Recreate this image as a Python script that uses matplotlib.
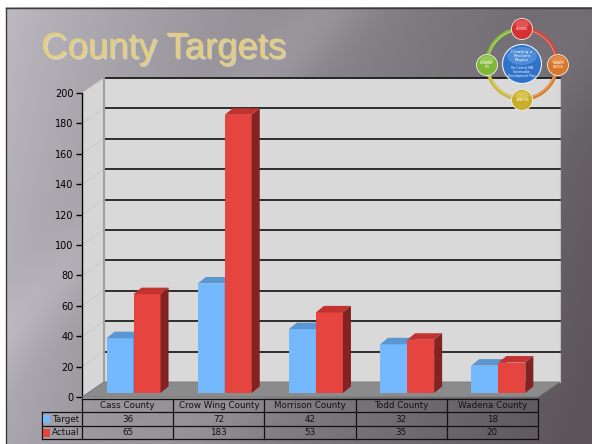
import numpy as np
import matplotlib
matplotlib.use("Agg")
import matplotlib.pyplot as plt
from matplotlib.patches import Polygon, Rectangle, Circle, Ellipse
from matplotlib import transforms
import matplotlib.patheffects as pe

# ---------------- data ----------------
categories = ["Cass County", "Crow Wing County", "Morrison County", "Todd County", "Wadena County"]
series_names = ["Target", "Actual"]
target = [36, 72, 42, 32, 18]
actual = [65, 183, 53, 35, 20]
yticks = [0, 20, 40, 60, 80, 100, 120, 140, 160, 180, 200]

front_colors = ["#74B8FE", "#E6443F"]
top_colors = ["#5A96D2", "#C2322E"]
side_colors = ["#4A78A8", "#822222"]

W, H = 592, 444
fig = plt.figure(figsize=(W / 100, H / 100), dpi=100)
fig.patch.set_facecolor("white")

# ---------------- background ----------------
bg = fig.add_axes([0, 0, 1, 1])
bg.set_xlim(0, W)
bg.set_ylim(H, 0)
bg.axis("off")
xx, yy = np.meshgrid(np.linspace(0, 1, 300), np.linspace(0, 1, 225))
left_c = np.array([188, 185, 192]) / 255
right_c = np.array([92, 86, 92]) / 255
t = np.clip(xx ** 0.85 * 0.85 + yy * 0.18, 0, 1)
img = left_c[None, None, :] * (1 - t[..., None]) + right_c[None, None, :] * t[..., None]
streak = 0.05 * np.exp(-(((xx * W + yy * H) - 330) / 45) ** 2)
streak2 = 0.035 * np.exp(-(((xx * W + yy * H) - 620) / 70) ** 2)
img = np.clip(img + streak[..., None] + streak2[..., None], 0, 1)
bg.imshow(img, extent=[6, W, H, 8], aspect="auto", zorder=0)
bg.plot([6, W], [8, 8], color="#3c3a3e", lw=1.0, zorder=1)
bg.plot([6, 6], [8, H], color="#3c3a3e", lw=1.0, zorder=1)

# ---------------- chart axes ----------------
ax_left, ax_right, ax_top, ax_bot = 82, 538, 93, 397
ax = fig.add_axes([ax_left / W, (H - ax_bot) / H, (ax_right - ax_left) / W, (ax_bot - ax_top) / H])
ax.patch.set_visible(False)
n = len(categories)
ax.set_xlim(-0.5, n - 0.5)
ax.set_ylim(0, 200)
for s in ["top", "right", "bottom"]:
    ax.spines[s].set_visible(False)
ax.spines["left"].set_color("black")
ax.spines["left"].set_linewidth(1.0)
ax.set_xticks([])
ax.set_yticks(yticks)
ax.tick_params(axis="y", labelsize=7, length=4, width=1, color="black", labelcolor="black", pad=2)

px_cat = (ax_right - ax_left) / n
px_unit = (ax_bot - ax_top) / 200.0
DX = 22 / px_cat
DY = 15 / px_unit
x0, x1 = -0.5, n - 0.5

# back wall
ax.add_patch(Polygon([(x0 + DX, DY), (x1 + DX, DY), (x1 + DX, 200 + DY), (x0 + DX, 200 + DY)],
                     closed=True, facecolor="#D9D9D9", edgecolor="#BDBDBD", lw=0.8, clip_on=False, zorder=1))
# side wall
ax.add_patch(Polygon([(x0, 0), (x0 + DX, DY), (x0 + DX, 200 + DY), (x0, 200)],
                     closed=True, facecolor="#D6D6D6", edgecolor="#C4C4C4", lw=0.6, clip_on=False, zorder=1))
for v in yticks[1:]:
    ax.plot([x0, x0 + DX], [v, v + DY], color="#C8C8C8", lw=0.6, clip_on=False, zorder=2)
    ax.plot([x0 + DX, x1 + DX], [v + DY, v + DY], color="#111111", lw=1.2, clip_on=False, zorder=2)
ax.plot([x0 + DX, x0 + DX], [DY, 200 + DY], color="#A0A0A0", lw=1.5, clip_on=False, zorder=2)
# floor
ax.add_patch(Polygon([(x0, 0), (x1, 0), (x1 + DX, DY), (x0 + DX, DY)],
                     closed=True, facecolor="#8B8B8B", edgecolor="#7A7A7A", lw=0.6, clip_on=False, zorder=3))

# bars
f = 0.27
bx_off = f * DX
by_off = f * DY
BW = 27 / px_cat
bdx = 8 / px_cat
bdy = 6.5 / px_unit
series = [target, actual]
z = 4
for i in range(n):
    for k, vals in enumerate(series):
        xl = i + bx_off + (k - 1) * BW
        xr = xl + BW
        yb = by_off
        yt = by_off + vals[i]
        ax.add_patch(Polygon([(xl, yb), (xr, yb), (xr, yt), (xl, yt)], closed=True,
                             facecolor=front_colors[k], edgecolor="none", clip_on=False, zorder=z))
        ax.add_patch(Polygon([(xl, yt), (xr, yt), (xr + bdx, yt + bdy), (xl + bdx, yt + bdy)], closed=True,
                             facecolor=top_colors[k], edgecolor="none", clip_on=False, zorder=z))
        ax.add_patch(Polygon([(xr, yb), (xr + bdx, yb + bdy), (xr + bdx, yt + bdy), (xr, yt)], closed=True,
                             facecolor=side_colors[k], edgecolor="none", clip_on=False, zorder=z))
        z += 0.01

# ---------------- data table ----------------
tb = transforms.blended_transform_factory(ax.transData, ax.transAxes)
def yf(py):
    return (ax_bot - py) / (ax_bot - ax_top)
rows_px = [399, 412, 426, 439]
ry = [yf(p) for p in rows_px]
lx = -0.5 - 40 / px_cat
lc = "#111111"
lw = 0.9
ax.plot([x0, x1], [ry[0], ry[0]], transform=tb, color=lc, lw=lw, clip_on=False, zorder=10)
for yv in ry[1:]:
    ax.plot([lx, x1], [yv, yv], transform=tb, color=lc, lw=lw, clip_on=False, zorder=10)
for j in range(n + 1):
    ax.plot([x0 + j, x0 + j], [ry[0], ry[3]], transform=tb, color=lc, lw=lw, clip_on=False, zorder=10)
ax.plot([lx, lx], [ry[1], ry[3]], transform=tb, color=lc, lw=lw, clip_on=False, zorder=10)
for i, c in enumerate(categories):
    ax.text(i, (ry[0] + ry[1]) / 2, c, transform=tb, ha="center", va="center", fontsize=6.3,
            color="#111111", clip_on=False, zorder=11)
for k, vals in enumerate(series):
    ymid = (ry[k + 1] + ry[k + 2]) / 2
    for i, v in enumerate(vals):
        ax.text(i, ymid, str(v), transform=tb, ha="center", va="center", fontsize=6.3,
                color="#111111", clip_on=False, zorder=11)
    ax.add_patch(Rectangle((lx + 1.5 / px_cat, ymid - 4 / (ax_bot - ax_top)), 7 / px_cat, 8 / (ax_bot - ax_top),
                           transform=tb, facecolor=front_colors[k], edgecolor="none", clip_on=False, zorder=11))
    ax.text(lx + 10 / px_cat, ymid, series_names[k], transform=tb, ha="left", va="center", fontsize=6.3,
            color="#111111", clip_on=False, zorder=11)

# ---------------- overlay: title & logo ----------------
ov = fig.add_axes([0, 0, 1, 1])
ov.set_xlim(0, W)
ov.set_ylim(H, 0)
ov.axis("off")
ov.patch.set_visible(False)
ov.text(41, 58, "County Targets", fontsize=26.3, family="Liberation Sans", color="#E3CF7F",
        ha="left", va="baseline",
        path_effects=[pe.withSimplePatchShadow(offset=(1, -1), shadow_rgbFace="#F4EFD8", alpha=0.6)])

cx, cy, r = 522, 64, 35
def arc(a1, a2, col):
    tt = np.radians(np.linspace(a1, a2, 40))
    ov.plot(cx + r * np.cos(tt), cy - r * np.sin(tt), color=col, lw=2.6, solid_capstyle="round", zorder=2)
    ov.plot(cx + (r - 0.8) * np.cos(tt), cy - (r - 0.8) * np.sin(tt), color="white", lw=0.5, alpha=0.5, zorder=2)
arc(0, 90, "#D8443A")
arc(-90, 0, "#DC7A2A")
arc(180, 270, "#C8B834")
arc(90, 180, "#86BC3A")

def node(x, y, rr, col, light, label_lines, fs):
    ov.add_patch(Circle((x, y), rr, facecolor=col, edgecolor="#F0F0F0", lw=0.6, zorder=3))
    ov.add_patch(Ellipse((x, y - rr * 0.45), rr * 1.3, rr * 0.8, facecolor=light, edgecolor="none", alpha=0.55, zorder=3))
    ov.text(x, y, "\n".join(label_lines), fontsize=fs, color="white", ha="center", va="center",
            linespacing=1.0, zorder=4)

node(522, 29, 10.5, "#D63131", "#F07070", ["HOUSING"], 1.8)
node(558, 65, 10.5, "#D8762A", "#F0A060", ["TRANSPO", "RTATION"], 1.8)
node(522, 100, 10.5, "#C8AE2A", "#EAD66A", ["LAND USE"], 1.8)
node(487, 65, 10.5, "#7EB636", "#B0DA70", ["ECONOMIC", "DEV"], 1.8)
ov.add_patch(Circle((522, 64), 19.5, facecolor="#2F72C8", edgecolor="#E8F0FF", lw=0.8, zorder=3))
ov.add_patch(Ellipse((522, 56), 30, 18, facecolor="#6FA8EA", edgecolor="none", alpha=0.5, zorder=3))
ov.text(522, 56, "Creating a\nResilient\nRegion", fontsize=3.0, color="white", ha="center", va="center",
        linespacing=1.0, zorder=4)
ov.text(522, 72, "The Central MN\nSustainable\nDevelopment Plan", fontsize=2.2, color="white", ha="center",
        va="center", linespacing=1.0, zorder=4)

fig.savefig("out.png", dpi=100)
